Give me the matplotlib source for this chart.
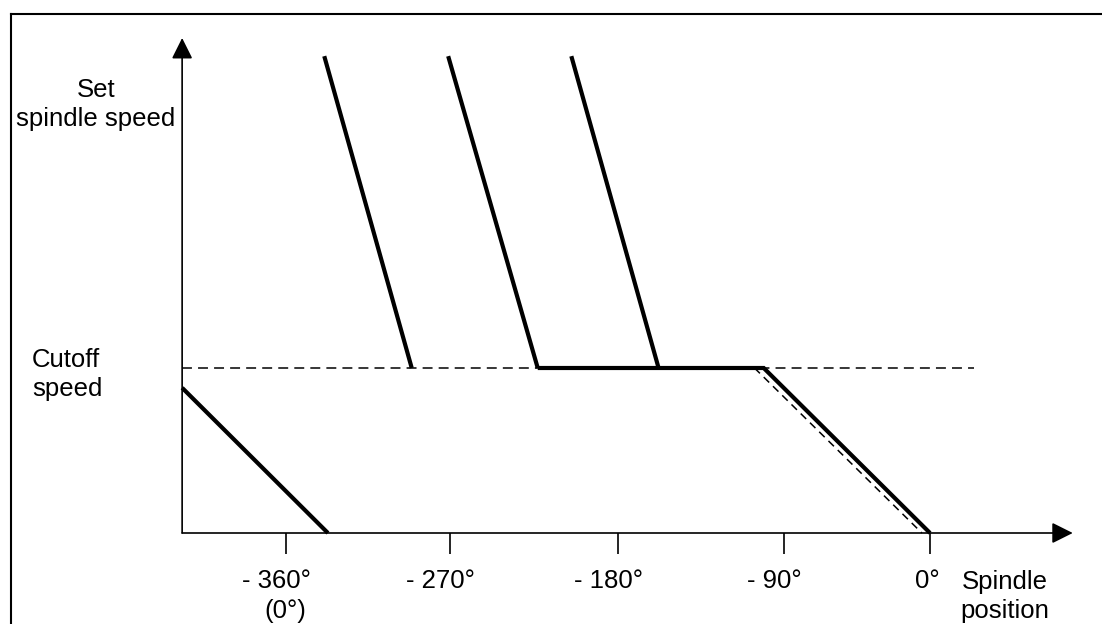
import numpy as np
import matplotlib
matplotlib.use("Agg")
import matplotlib.pyplot as plt
from matplotlib.transforms import offset_copy

# ---------------- data ----------------
tick_deg = [-360, -270, -180, -90, 0]
tick_labels = ["- 360°", "- 270°", "- 180°", "- 90°", "0°"]
tick_sublabels = ["(0°)", "", "", "", ""]

y_label = "Set\nspindle speed"
cutoff_label = "Cutoff\nspeed"
x_label = "Spindle\nposition"

cutoff_speed = 1.0          # relative speed units
set_speed = 2.89
# three steep deceleration ramps (degrees at set speed -> degrees at cutoff)
ramp_top_deg = [-339, -271, -205]
ramp_bottom_deg = [-291, -223, -158]
# hold at cutoff speed, then position-controlled braking down to 0°
hold_start_deg = -223
brake_start_deg = -101
stop_deg = 0
# ideal braking characteristic (dashed)
ideal_brake_deg = [-106, -5]
ideal_brake_speed = [1.0, 0.0]
# previous revolution braking tail (bottom left)
tail_deg = [-417, -337]
tail_speed = [0.88, 0.0]
# axis extents
axis_origin_deg = -417
axis_end_deg = 88
axis_top_speed = 3.0
cutoff_line_end_deg = 27

# ---------------- figure ----------------
W, H = 1102, 624
fig = plt.figure(figsize=(W / 100, H / 100), dpi=100)
ax = fig.add_axes([0, 0, 1, 1])
ax.set_axis_off()

# piecewise-linear degree scale matched to the drawing's tick spacing
tick_px = np.array([286, 450, 618, 784, 930], float)
tdeg = np.array(tick_deg, float)
s0 = (tick_px[1] - tick_px[0]) / (tdeg[1] - tdeg[0])
s1 = (tick_px[-1] - tick_px[-2]) / (tdeg[-1] - tdeg[-2])


def fwd(x):
    x = np.asarray(x, float)
    y = np.interp(x, tdeg, tick_px)
    y = np.where(x < tdeg[0], tick_px[0] + (x - tdeg[0]) * s0, y)
    y = np.where(x > tdeg[-1], tick_px[-1] + (x - tdeg[-1]) * s1, y)
    return y


def inv(p):
    p = np.asarray(p, float)
    x = np.interp(p, tick_px, tdeg)
    x = np.where(p < tick_px[0], tdeg[0] + (p - tick_px[0]) / s0, x)
    x = np.where(p > tick_px[-1], tdeg[-1] + (p - tick_px[-1]) / s1, x)
    return x


ax.set_xscale("function", functions=(fwd, inv))
ax.set_xlim(float(inv(0)), float(inv(W)))
px_per_unit = 165.0
y0_px = 533.0
ax.set_ylim((y0_px - H) / px_per_unit, y0_px / px_per_unit)

font = dict(family=["Liberation Sans", "DejaVu Sans"], size=18.5, color="black")


def fp(x, y):
    return x / W, 1 - y / H


# frame (top + left)
fig.add_artist(plt.Line2D([fp(11, 0)[0], fp(11, 0)[0]], [0, fp(0, 14)[1]],
                          color="black", lw=1.5, transform=fig.transFigure))
fig.add_artist(plt.Line2D([fp(11, 0)[0], 1], [fp(0, 14)[1], fp(0, 14)[1]],
                          color="black", lw=1.5, transform=fig.transFigure))

# axes with arrows
arrow = dict(arrowstyle="-|>,head_length=0.4,head_width=0.2", mutation_scale=32,
             lw=1.2, color="black", shrinkA=0, shrinkB=0)
ax.annotate("", xy=(axis_origin_deg, axis_top_speed), xytext=(axis_origin_deg, 0),
            arrowprops=arrow)
ax.annotate("", xy=(axis_end_deg, 0), xytext=(axis_origin_deg, 0),
            arrowprops=arrow)

# ticks
tick_len = 21 / px_per_unit
ax.vlines(tick_deg, -tick_len, 0, color="black", lw=1.2)

# cutoff dashed line
ax.plot([axis_origin_deg, cutoff_line_end_deg], [cutoff_speed, cutoff_speed],
        color="black", lw=1.1, dashes=(6.5, 4))
# ideal braking dashed line
ax.plot(ideal_brake_deg, ideal_brake_speed, color="black", lw=1.1, dashes=(5, 3.5))

thick = dict(color="black", lw=3, solid_capstyle="butt", solid_joinstyle="miter")
for t, b in zip(ramp_top_deg, ramp_bottom_deg):
    ax.plot([t, b], [set_speed, cutoff_speed], **thick)
ax.plot([hold_start_deg, brake_start_deg, stop_deg],
        [cutoff_speed, cutoff_speed, 0], **thick)
ax.plot(tail_deg, tail_speed, **thick)

# tick labels
base1 = (y0_px - 588) / px_per_unit
base2 = (y0_px - 618) / px_per_unit
for d, lab, sub in zip(tick_deg, tick_labels, tick_sublabels):
    off = -10 if lab.startswith("-") else -3
    tr = offset_copy(ax.transData, fig=fig, x=off, y=0, units="dots")
    ax.text(d, base1, lab, ha="center", va="baseline", transform=tr, **font)
    if sub:
        tr2 = offset_copy(ax.transData, fig=fig, x=-1, y=0, units="dots")
        ax.text(d, base2, sub, ha="center", va="baseline", transform=tr2, **font)

# axis titles (baseline refers to the last line)
fig.text(*fp(96, 126), y_label, ha="center", va="baseline",
         multialignment="center", linespacing=1.27, **font)
fig.text(*fp(32, 396), cutoff_label, ha="left", va="baseline",
         multialignment="left", linespacing=1.27, **font)
fig.text(*fp(1005, 618), x_label, ha="center", va="baseline",
         multialignment="center", linespacing=1.27, **font)

fig.savefig("out.png", dpi=100)
